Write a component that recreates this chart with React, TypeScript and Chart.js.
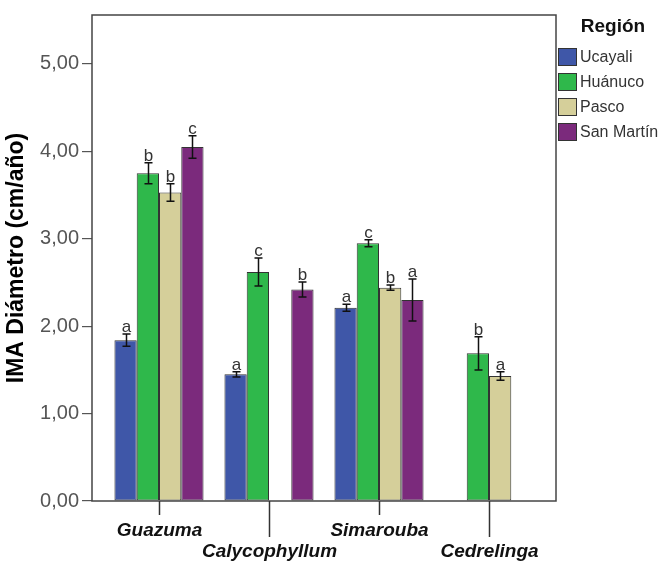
import React, { useEffect, useRef } from "react";
import { Chart, registerables } from "chart.js";

Chart.register(...registerables);

const categories = ["Guazuma", "Calycophyllum", "Simarouba", "Cedrelinga"];
const regions = ["Ucayali", "Huánuco", "Pasco", "San Martín"];
const yTickValues = [0, 1, 2, 3, 4, 5];

const ucayali = [1.84, 1.45, 2.21, null];
const huanuco = [3.75, 2.62, 2.95, 1.69];
const pasco = [3.53, null, 2.44, 1.43];
const sanMartin = [4.05, 2.42, 2.3, null];

const ucayaliErr = [0.07, 0.03, 0.04, null];
const huanucoErr = [0.12, 0.16, 0.04, 0.19];
const pascoErr = [0.1, null, 0.03, 0.05];
const sanMartinErr = [0.13, 0.085, 0.24, null];

const ucayaliSig = ["a", "a", "a", ""];
const huanucoSig = ["b", "c", "c", "b"];
const pascoSig = ["b", "", "b", "a"];
const sanMartinSig = ["c", "b", "a", ""];

const colors = ["#3f57a8", "#2fb84b", "#d5cf9a", "#7b2a7c"];

const seriesValues = [ucayali, huanuco, pasco, sanMartin];
const seriesErrors = [ucayaliErr, huanucoErr, pascoErr, sanMartinErr];
const seriesSig = [ucayaliSig, huanucoSig, pascoSig, sanMartinSig];

const SANS = "'Liberation Sans', Arial, sans-serif";

const decorPlugin = {
  id: "decor",
  afterDatasetsDraw(chart: any) {
    const ctx = chart.ctx;
    const yScale = chart.scales.y;
    ctx.save();
    seriesValues.forEach((vals, di) => {
      const meta = chart.getDatasetMeta(di);
      vals.forEach((v, j) => {
        const e = seriesErrors[di][j];
        const bar = meta.data[j];
        if (v == null || !bar) return;
        const x = Math.round(bar.x) + 0.5;
        let topY = yScale.getPixelForValue(v);
        if (e != null) {
          const yTop = yScale.getPixelForValue(v + e);
          const yBot = yScale.getPixelForValue(v - e);
          ctx.strokeStyle = "#111";
          ctx.lineWidth = 1.5;
          ctx.beginPath();
          ctx.moveTo(x, yTop);
          ctx.lineTo(x, yBot);
          ctx.moveTo(x - 4, yTop);
          ctx.lineTo(x + 4, yTop);
          ctx.moveTo(x - 4, yBot);
          ctx.lineTo(x + 4, yBot);
          ctx.stroke();
          topY = yTop;
        }
        const s = seriesSig[di][j];
        if (s) {
          ctx.fillStyle = "#333";
          ctx.font = `17px ${SANS}`;
          ctx.textAlign = "center";
          ctx.textBaseline = "alphabetic";
          ctx.fillText(s, x, topY - 2);
        }
      });
    });
    ctx.restore();
  },
  afterDraw(chart: any) {
    const ctx = chart.ctx;
    const area = chart.chartArea;
    const xScale = chart.scales.x;
    ctx.save();
    ctx.strokeStyle = "#444";
    ctx.lineWidth = 1.5;
    ctx.strokeRect(area.left, area.top, area.right - area.left, area.bottom - area.top);
    categories.forEach((c, i) => {
      const x = Math.round(xScale.getPixelForValue(i)) + 0.5;
      const len = i % 2 === 0 ? 14 : 36;
      ctx.strokeStyle = "#333";
      ctx.lineWidth = 1.5;
      ctx.beginPath();
      ctx.moveTo(x, area.bottom);
      ctx.lineTo(x, area.bottom + len);
      ctx.stroke();
      ctx.fillStyle = "#111";
      ctx.font = `italic bold 19px ${SANS}`;
      ctx.textAlign = "center";
      ctx.textBaseline = "middle";
      ctx.fillText(c, x, area.bottom + (i % 2 === 0 ? 30 : 51));
    });
    ctx.save();
    ctx.translate(17, (area.top + area.bottom) / 2);
    ctx.rotate(-Math.PI / 2);
    ctx.fillStyle = "#000";
    ctx.font = `bold 23px ${SANS}`;
    ctx.textAlign = "center";
    ctx.textBaseline = "middle";
    ctx.fillText("IMA Diámetro (cm/año)", 0, 0);
    ctx.restore();
    ctx.fillStyle = "#111";
    ctx.font = `bold 19px ${SANS}`;
    ctx.textAlign = "center";
    ctx.textBaseline = "middle";
    ctx.fillText("Región", 613, 27);
    regions.forEach((r, i) => {
      const cy = 57 + i * 25;
      ctx.fillStyle = colors[i];
      ctx.fillRect(558, cy - 9, 19, 18);
      ctx.strokeStyle = "#333";
      ctx.lineWidth = 1;
      ctx.strokeRect(558.5, cy - 8.5, 18, 17);
      ctx.fillStyle = "#333";
      ctx.font = `16px ${SANS}`;
      ctx.textAlign = "left";
      ctx.textBaseline = "middle";
      ctx.fillText(r, 580, cy + 1);
    });
    ctx.restore();
  },
};

export default function App() {
  const ref = useRef<HTMLCanvasElement>(null);
  useEffect(() => {
    document.body.style.margin = "0";
    const canvas = ref.current!;
    const chart = new Chart(canvas, {
      type: "bar",
      data: {
        datasets: regions.map((r, di) => ({
          label: r,
          data: seriesValues[di].map((v, j) => ({ x: j, y: v })) as any,
          backgroundColor: colors[di],
          borderColor: "#333",
          borderWidth: 1,
          borderSkipped: false,
          categoryPercentage: 0.81,
          barPercentage: 1,
        })),
      },
      options: {
        animation: false,
        responsive: false,
        maintainAspectRatio: false,
        layout: { padding: { left: 0, top: 7, right: 114, bottom: 62 } },
        plugins: { legend: { display: false }, tooltip: { enabled: false } },
        scales: {
          x: {
            type: "linear",
            min: -0.609,
            max: 3.609,
            display: false,
            offset: false,
            afterBuildTicks: (scale: any) => {
              scale.ticks = categories.map((_, i) => ({ value: i }));
            },
          },
          y: {
            min: 0,
            max: 5.56,
            border: { display: false },
            grid: { drawOnChartArea: false, drawTicks: true, tickLength: 10, color: "#555", lineWidth: 1.2 },
            afterBuildTicks: (scale: any) => {
              scale.ticks = yTickValues.map((v) => ({ value: v }));
            },
            afterFit: (scale: any) => {
              scale.width = 92;
            },
            ticks: {
              color: "#555",
              padding: 3,
              font: { family: SANS, size: 20 },
              callback: (v: any) => Number(v).toFixed(2).replace(".", ","),
            },
          },
        },
      },
      plugins: [decorPlugin],
    });
    return () => chart.destroy();
  }, []);
  return <canvas ref={ref} width={670} height={563} style={{ width: 670, height: 563, display: "block" }} />;
}
